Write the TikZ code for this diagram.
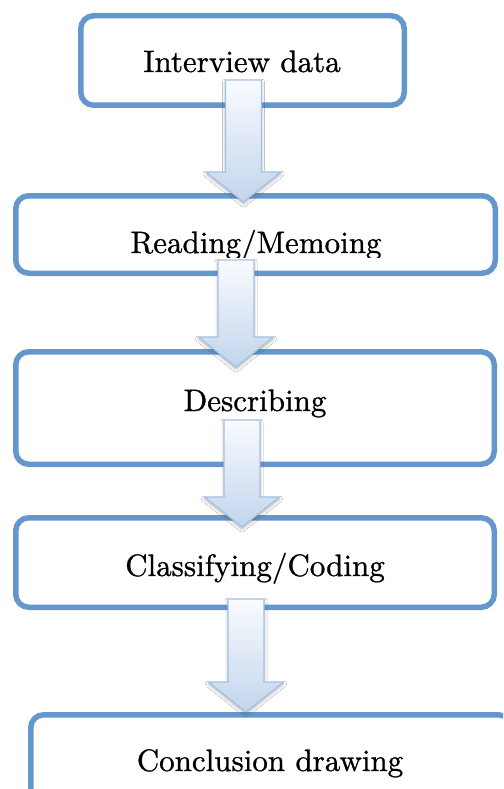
\documentclass[tikz,border=0pt]{standalone}
\usepackage{fontspec}
\newfontfamily\boxfont{lmroman10-regular.otf}[FakeBold=0.9]
\usetikzlibrary{calc,shadows.blur}
\definecolor{boxblue}{RGB}{100,152,204}
\definecolor{arrline}{RGB}{165,193,227}
\definecolor{arrtop}{RGB}{249,251,254}
\definecolor{arrbot}{RGB}{194,213,236}
\tikzset{
  stagebox/.style={draw=boxblue, line width=5.5pt, rounded corners=13pt, fill=white, inner sep=0pt},
  stagetext/.style={anchor=base, inner sep=0pt, font=\boxfont\bfseries\fontsize{31}{36}\selectfont},
  flowarrow/.style={draw=arrline, line width=1.3pt, line join=miter, top color=arrtop, bottom color=arrbot,
    blur shadow={shadow xshift=0pt, shadow yshift=-2pt, shadow blur radius=3pt, shadow opacity=30}}
}
% #1 top-centre coordinate, #2 tip coordinate
\newcommand\downarrowshape[2]{%
  \path[flowarrow] ($(#1)+(-18,0)$) -- ($(#1)+(18,0)$) -- ($(#2)+(18,-30)$) -- ($(#2)+(37.5,-30)$)
    -- (#2) -- ($(#2)+(-37.5,-30)$) -- ($(#2)+(-18,-30)$) -- cycle;}
\begin{document}
\begin{tikzpicture}[x=1pt,y=-1pt]
\useasboundingbox (0,0) rectangle (503,789);
\fill[white] (0,0) rectangle (503,789);
\begin{scope}
\clip (0,0) rectangle (503,789);
% boxes
\node[stagebox, minimum width=323.5pt, minimum height=89.5pt] (b1) at (242.5,60.5) {};
\node[stagebox, minimum width=479.5pt, minimum height=77.5pt] (b2) at (255.5,234.5) {};
\node[stagebox, minimum width=478.5pt, minimum height=112.5pt] (b3) at (255,408) {};
\node[stagebox, minimum width=478.5pt, minimum height=89.5pt] (b4) at (255,562.5) {};
\node[stagebox, minimum width=480.5pt, minimum height=112.5pt] (b5) at (271,771) {};
% texts
\node[stagetext] (t1) at (242,72) {Interview data};
\begin{scope}
\clip (0,0) rectangle (503,257);
\node[stagetext] (t2) at (256,253) {Reading/Memoing};
\end{scope}
\node[stagetext] (t3) at (255,411) {Describing};
\node[stagetext] (t4) at (255,576) {Classifying/Coding};
\node[stagetext] (t5) at (270,771) {Conclusion drawing};
% arrow anchor coordinates
\coordinate (a1s) at (243.5,80);  \coordinate (a1e) at (243.5,202);
\coordinate (a2s) at (236,260);   \coordinate (a2e) at (236,367);
\coordinate (a3s) at (242,420);   \coordinate (a3e) at (242,527);
\coordinate (a4s) at (246,599);   \coordinate (a4e) at (246,712);
\downarrowshape{a1s}{a1e}
\downarrowshape{a2s}{a2e}
\downarrowshape{a3s}{a3e}
\downarrowshape{a4s}{a4e}
\end{scope}
\end{tikzpicture}
\end{document}
